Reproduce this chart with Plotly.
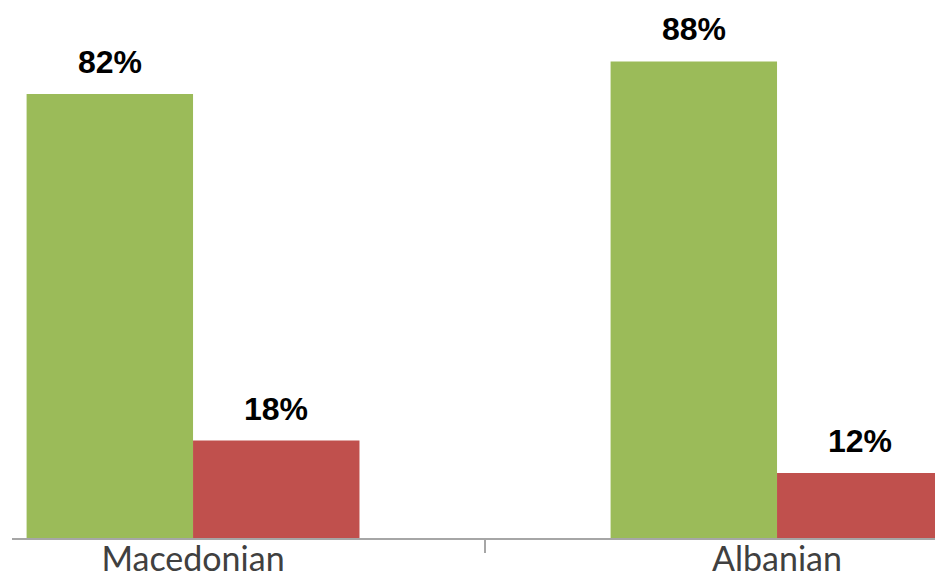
import plotly.graph_objects as go

categories = ["Macedonian", "Albanian"]
series_names = ["Yes", "No"]
green_values = [82, 88]
red_values = [18, 12]
green_labels = ["82%", "88%"]
red_labels = ["18%", "12%"]

GREEN = "#9BBB59"
RED = "#C0504D"

fig = go.Figure()
fig.add_trace(go.Bar(x=categories, y=green_values, name=series_names[0],
                     marker=dict(color=GREEN, line=dict(width=0)), offsetgroup="a"))
fig.add_trace(go.Bar(x=categories, y=red_values, name=series_names[1],
                     marker=dict(color=RED, line=dict(width=0)), offsetgroup="b"))

bar_w = 0.285
label_font = dict(family="Liberation Sans", size=32, color="#000000")
annotations = []
for i, cat in enumerate(categories):
    annotations.append(dict(x=i - bar_w / 2, y=green_values[i], xref="x", yref="y",
                            text="<b>" + green_labels[i] + "</b>", showarrow=False,
                            yanchor="bottom", yshift=12, font=label_font))
    annotations.append(dict(x=i + bar_w / 2, y=red_values[i], xref="x", yref="y",
                            text="<b>" + red_labels[i] + "</b>", showarrow=False,
                            yanchor="bottom", yshift=12, font=label_font))

fig.update_layout(
    width=935, height=577,
    margin=dict(l=12, r=0, t=0, b=39, autoexpand=False),
    paper_bgcolor="white", plot_bgcolor="white",
    showlegend=False,
    barmode="group", bargap=0.43, bargroupgap=0,
    annotations=annotations,
    xaxis=dict(type="category", range=[-0.310, 1.2705], automargin=False,
               showline=True, linecolor="#A6A6A6", linewidth=2,
               ticks="outside", tickson="boundaries", ticklen=13, tickwidth=2,
               tickcolor="#A6A6A6", showgrid=False, zeroline=False,
               ticklabelstandoff=-10,
               tickfont=dict(family="Lato", size=34, color="#404040")),
    yaxis=dict(range=[0, 99.35], visible=False, showgrid=False, zeroline=False,
               automargin=False),
)

fig.write_html("out.html", config={"displayModeBar": False},
               post_script="document.body.style.margin='0';document.body.style.padding='0';")
